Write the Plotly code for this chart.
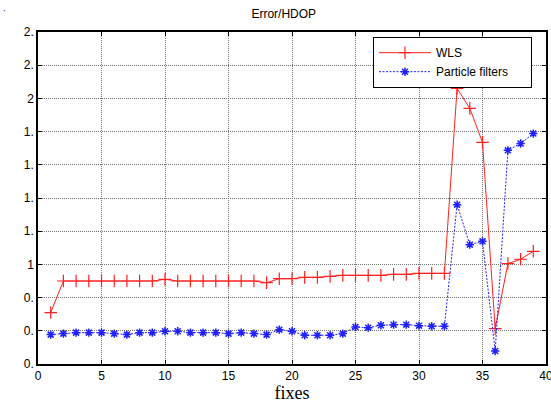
import plotly.graph_objects as go

# Fix index
fixes = list(range(1, 40))

# Error/HDOP per fix
wls = [0.71, 0.90, 0.90, 0.90, 0.90, 0.90, 0.90, 0.90, 0.90, 0.91,
       0.90, 0.90, 0.90, 0.90, 0.90, 0.90, 0.90, 0.89, 0.914, 0.914,
       0.922, 0.922, 0.928, 0.934, 0.934, 0.934, 0.934, 0.94, 0.94, 0.946,
       0.946, 0.946, 2.06, 1.94, 1.735, 0.613, 1.005, 1.031, 1.079]
particle = [0.577, 0.583, 0.589, 0.589, 0.589, 0.583, 0.577, 0.589, 0.589, 0.597,
            0.597, 0.589, 0.589, 0.589, 0.583, 0.589, 0.583, 0.577, 0.607, 0.597,
            0.573, 0.573, 0.573, 0.583, 0.623, 0.619, 0.633, 0.637, 0.637, 0.631,
            0.627, 0.627, 1.36, 1.119, 1.139, 0.478, 1.687, 1.728, 1.788]

# Axis ticks
x_ticks = [0, 5, 10, 15, 20, 25, 30, 35, 40]
y_tick_values = [0.4, 0.6, 0.8, 1.0, 1.2, 1.4, 1.6, 1.8, 2.0, 2.2, 2.4]
y_tick_labels = ["0.", "0.", "0.", "1", "1.", "1.", "1.", "1.", "2", "2.", "2."]

NBSP = "\u00a0"

fig = go.Figure()
fig.add_trace(go.Scatter(
    x=fixes, y=wls, name="WLS", mode="lines+markers",
    line=dict(color="#ff2020", width=1),
    marker=dict(symbol="cross-thin-open", size=9, line=dict(color="#ff0000", width=1.2)),
))
fig.add_trace(go.Scatter(
    x=fixes, y=particle, name="Particle filters" + NBSP * 5, mode="lines+markers",
    line=dict(color="#2020ff", width=1, dash="2px,1.5px"),
    marker=dict(symbol="asterisk-open", size=7, line=dict(color="#0000ff", width=1.5)),
))

axis_common = dict(
    showline=True, linecolor="black", linewidth=1.5, mirror="ticks",
    ticks="inside", ticklen=4, tickcolor="black",
    showgrid=True, gridcolor="#777777", gridwidth=1, griddash="1px,1px",
    zeroline=False, automargin=False, ticklabeloverflow="allow",
    tickfont=dict(family="Arial, Liberation Sans", size=12, color="black"),
)

fig.update_xaxes(range=[0, 40], tickvals=x_ticks,
                 title=dict(text="fixes", font=dict(family="Times New Roman, Liberation Serif", size=18, color="black"), standoff=2),
                 **axis_common)
fig.update_yaxes(range=[0.4, 2.4], tickvals=y_tick_values, ticktext=y_tick_labels,
                 **axis_common)

fig.update_layout(
    width=551, height=405,
    margin=dict(l=38, r=5, t=32, b=41),
    paper_bgcolor="white", plot_bgcolor="white",
    title=dict(text="Error/HDOP", x=0.515, xanchor="center", y=0.967, yanchor="middle",
               font=dict(family="Arial, Liberation Sans", size=12, color="black")),
    legend=dict(x=0.659, y=0.985, xanchor="left", yanchor="top",
                bgcolor="white", bordercolor="black", borderwidth=1.2,
                font=dict(family="Arial, Liberation Sans", size=12, color="black"),
                tracegroupgap=0, itemwidth=52),
    showlegend=True,
)

fig.add_annotation(text="·", x=0, y=1, xref="paper", yref="paper",
                   xanchor="center", yanchor="middle", showarrow=False,
                   font=dict(color="#3333cc", size=10), xshift=-34, yshift=22)

fig.write_html("out.html")
